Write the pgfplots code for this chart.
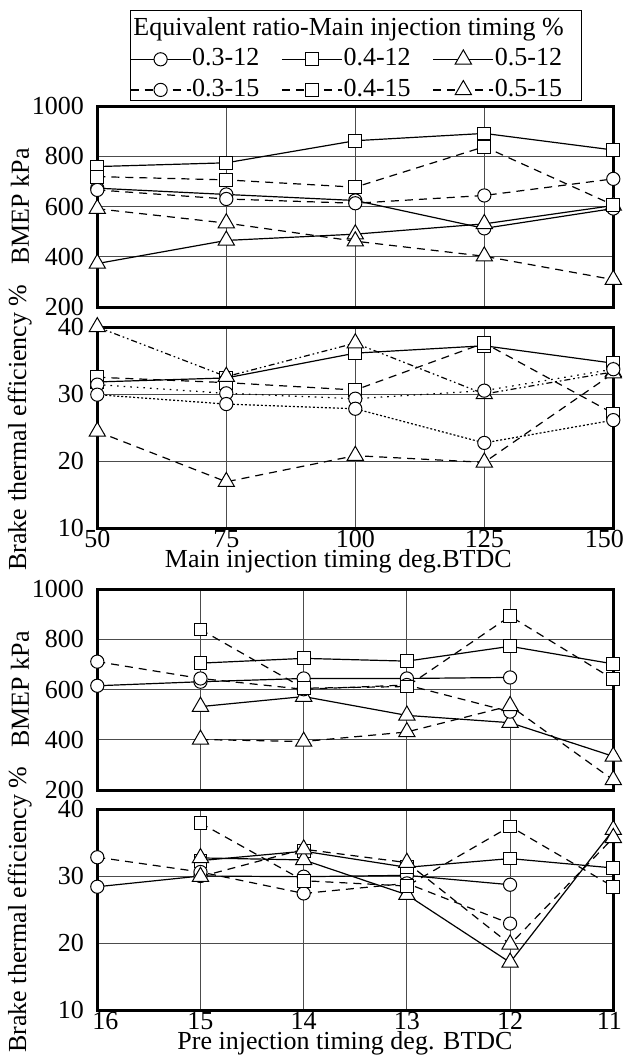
\documentclass[border=0pt]{standalone}
\usepackage{fontspec}
\setmainfont{Liberation Serif}
\usepackage{pgfplots}
\pgfplotsset{compat=1.18}

\newcommand{\fs}{\fontsize{13}{15}\selectfont}

\pgfplotsset{
  panel/.style={
    scale only axis, width=258pt, height=100.5pt,
    axis line style={line width=1.5pt},
    grid=major, major grid style={line width=0.5pt, black!70},
    major tick length=0pt,
    tick label style={font=\fs},
    /pgf/number format/assume math mode=true,
    /pgf/number format/1000 sep={},
    clip=false,
    yticklabel style={inner sep=0pt, xshift=-6.5pt},
    xticklabel style={inner sep=0pt, yshift=-1pt},
    every axis y label/.style={at={(axis description cs:-0.15,0.5)}, rotate=90, anchor=center, font=\fs},
    every axis x label/.style={at={(axis description cs:0.48,0)}, anchor=base, yshift=-19.5pt, font=\fs},
  },
  bmep/.style={panel, ymin=200, ymax=1000, ytick={200,400,600,800,1000}, ylabel={BMEP kPa}},
  bte/.style={panel, ymin=10, ymax=40, ytick={10,20,30,40}, ylabel={Brake thermal efficiency \%}},
  ln/.style={black, line width=0.6pt, mark options={solid, fill=white, draw=black, line width=0.5pt}},
  c/.style={ln, mark=*, mark size=3.3pt},
  q/.style={ln, mark=square*, mark size=3.2pt},
  t/.style={ln, mark=triangle*, mark size=4.7pt},
  dsh/.style={dash pattern=on 4pt off 3pt},
  ddot/.style={dash pattern=on 3pt off 1.5pt on 0.8pt off 1.5pt on 0.8pt off 1.5pt},
  ldot/.style={dash pattern=on 0.8pt off 2.5pt},
  sdot/.style={dash pattern=on 1pt off 1pt},
}

\begin{document}
\begin{tikzpicture}
\useasboundingbox (0,0) rectangle (315pt,-528.5pt);

% BMEP vs main injection timing
\begin{axis}[bmep, at={(48.65pt,-153.5pt)}, anchor=south west,
  xmin=50, xmax=150, xtick={50,75,100,125,150}, xticklabels={},
  legend columns=3, legend cell align=left,
  legend style={at={(axis description cs:0.0634,1.018)}, anchor=south west,
    draw=none, fill=none, inner sep=0pt, outer sep=0pt, font=\fs,
    nodes={inner sep=0.5pt, text height=9pt, text depth=2.5pt},
    row sep=2.8pt,
    /tikz/every even column/.append style={column sep=10.5pt}},
  legend image code/.code={\draw[mark repeat=2, mark phase=2, #1] plot coordinates {(0pt,0pt) (15pt,0pt) (30pt,0pt)};},
]
\addplot[c] coordinates {(50,673) (75,648) (100,624) (125,513) (150,592)};
\addlegendentry{0.3-12}
\addplot[q] coordinates {(50,759) (75,774) (100,862) (125,891) (150,825)};
\addlegendentry{0.4-12}
\addplot[t] coordinates {(50,373) (75,465) (100,490) (125,531) (150,604)};
\addlegendentry{0.5-12}
\addplot[c, dsh] coordinates {(50,666) (75,630) (100,613) (125,644) (150,710)};
\addlegendentry{0.3-15}
\addplot[q, dsh] coordinates {(50,719) (75,706) (100,677) (125,838) (150,606)};
\addlegendentry{0.4-15}
\addplot[t, dsh] coordinates {(50,591) (75,534) (100,462) (125,402) (150,309)};
\addlegendentry{0.5-15}
\end{axis}

% BTE vs main injection timing
\begin{axis}[bte, at={(48.65pt,-264pt)}, anchor=south west,
  xmin=50, xmax=150, xtick={50,75,100,125,150},
  xticklabels={50,75,100,125,\makebox[0pt]{\kern-9pt 150}},
  xlabel style={at={(axis description cs:0.467,0)}},
  xlabel={Main injection timing deg.BTDC}]
\addplot[q] coordinates {(50,31.8) (75,32.4) (100,36.1) (125,37.2) (150,34.6)};
\addplot[q, dsh] coordinates {(50,32.5) (75,31.7) (100,30.6) (125,37.6) (150,27.1)};
\addplot[t, ddot] coordinates {(50,40) (75,32.6) (100,37.6) (125,30.0) (150,33.3)};
\addplot[t, dsh] coordinates {(50,24.4) (75,16.9) (100,20.8) (125,19.8) (150,33.1)};
\addplot[c, ldot] coordinates {(50,31.4) (75,30.1) (100,29.3) (125,30.5) (150,33.7)};
\addplot[c, sdot] coordinates {(50,29.9) (75,28.5) (100,27.8) (125,22.7) (150,26.1)};
\end{axis}

% BMEP vs pre injection timing
\begin{axis}[bmep, at={(48.65pt,-395pt)}, anchor=south west,
  x dir=reverse, xmin=11, xmax=16, xtick={11,12,13,14,15,16}, xticklabels={}]
\addplot[c] coordinates {(16,615) (15,631) (14,644) (13,644) (12,648)};
\addplot[q] coordinates {(15,705) (14,724) (13,713) (12,772) (11,702)};
\addplot[t] coordinates {(15,532) (14,572) (13,497) (12,468) (11,334)};
\addplot[c, dsh] coordinates {(16,711) (15,644) (14,601) (13,618) (12,512)};
\addplot[q, dsh] coordinates {(15,839) (14,605) (13,612) (12,892) (11,641)};
\addplot[t, dsh] coordinates {(15,401) (14,393) (13,431) (12,535) (11,240)};
\end{axis}

% BTE vs pre injection timing
\begin{axis}[bte, at={(48.65pt,-505pt)}, anchor=south west,
  x dir=reverse, xmin=11, xmax=16, xtick={16,15,14,13,12,11},
  xticklabels={\makebox[0pt]{\kern8pt 16},15,14,13,12,\makebox[0pt]{\kern-4pt 11}},
  xlabel={Pre injection timing deg. BTDC}]
\addplot[c] coordinates {(16,28.4) (15,30.0) (14,29.9) (13,30.1) (12,28.7)};
\addplot[q] coordinates {(15,32.3) (14,33.7) (13,31.3) (12,32.6) (11,31.2)};
\addplot[t] coordinates {(15,32.7) (14,32.4) (13,27.2) (12,17.1) (11,36.9)};
\addplot[c, dsh] coordinates {(16,32.8) (15,30.6) (14,27.4) (13,28.9) (12,22.9)};
\addplot[q, dsh] coordinates {(15,37.9) (14,29.3) (13,28.5) (12,37.4) (11,28.4)};
\addplot[t, dsh] coordinates {(15,29.9) (14,34.0) (13,32.0) (12,19.8) (11,35.7)};
\end{axis}

% legend frame and title
\draw[line width=0.5pt] (65pt,-5pt) rectangle (290.85pt,-50.35pt);
\node[anchor=base west, inner sep=0pt, font=\fs] at (66.5pt,-17.5pt) {Equivalent ratio-Main injection timing \%};
\end{tikzpicture}
\end{document}
